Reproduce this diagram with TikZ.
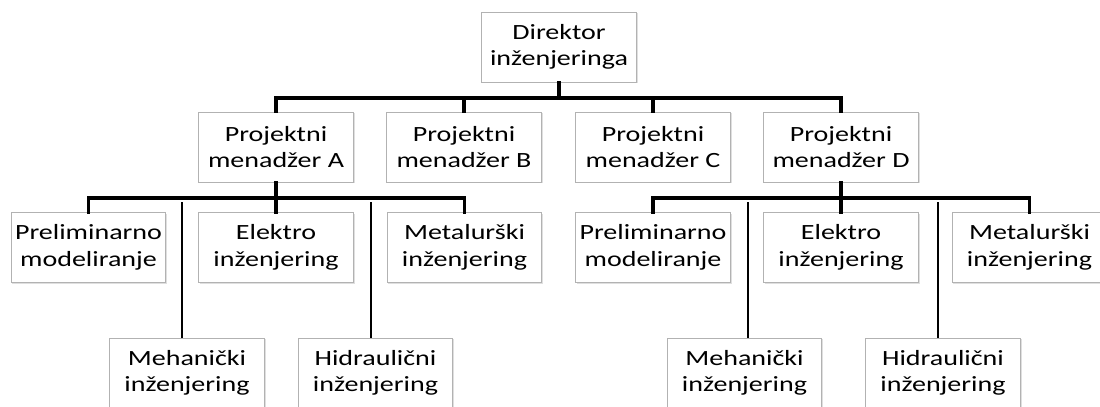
\documentclass[tikz,border=0pt]{standalone}
\usepackage{fontspec}
\setmainfont[FakeStretch=1.29]{Carlito}
\usetikzlibrary{shadows}
\begin{document}
\begin{tikzpicture}[x=0.75pt,y=-0.75pt,
        box/.style={draw=black!30,fill=white,line width=0.75pt,minimum width=116pt,minimum height=52.5pt,
                align=center,inner sep=1pt,font=\fontsize{16.3}{19.9}\selectfont,
                drop shadow={shadow xshift=0.9pt,shadow yshift=-0.9pt,opacity=0.25}},
        bar/.style={line width=2.3pt,line cap=rect},
        leg/.style={line width=1.5pt}]
                \useasboundingbox (0,0) rectangle (1100,407);
                \node[box] (dir) at (559,47) {Direktor\\inženjeringa};
                \node[box] (pmA) at (276,147) {Projektni\\menadžer A};
                \node[box] (pmB) at (464,147) {Projektni\\menadžer B};
                \node[box] (pmC) at (653,147) {Projektni\\menadžer C};
                \node[box] (pmD) at (841,147) {Projektni\\menadžer D};

                \node[box] (prelA) at (88.5,247.5) {Preliminarno\\modeliranje};
                \node[box] (elekA) at (276,247.5) {Elektro\\inženjering};
                \node[box] (metA) at (464.5,247.5) {Metalurški\\inženjering};
                \node[box] (mehA) at (187,373) {Mehanički\\inženjering};
                \node[box] (hidA) at (375.5,373) {Hidraulični\\inženjering};

                \node[box] (prelD) at (653,247.5) {Preliminarno\\modeliranje};
                \node[box] (elekD) at (841,247.5) {Elektro\\inženjering};
                \node[box] (metD) at (1029.5,247.5) {Metalurški\\inženjering};
                \node[box] (mehD) at (744.5,373) {Mehanički\\inženjering};
                \node[box] (hidD) at (943,373) {Hidraulični\\inženjering};

                \coordinate (topbar) at (559,98);
                \coordinate (barA) at (276,198);
                \coordinate (barD) at (841,198);
                \coordinate (mehAtop) at (182,202);
                \coordinate (hidAtop) at (370.5,202);
                \coordinate (mehDtop) at (748,202);
                \coordinate (hidDtop) at (938,202);

                \draw[bar] (dir.south) -- (topbar);
                \draw[bar] (pmA.north) |- (topbar) -| (pmD.north);
                \draw[bar] (pmB.north) -- (pmB.north |- topbar);
                \draw[bar] (pmC.north) -- (pmC.north |- topbar);

                \draw[bar] (pmA.south) -- (barA);
                \draw[bar] (prelA.north) |- (barA) -| (metA.north);
                \draw[bar] (elekA.north) -- (barA);
                \draw[leg] (mehAtop) -- (mehAtop |- mehA.north);
                \draw[leg] (hidAtop) -- (hidAtop |- hidA.north);

                \draw[bar] (pmD.south) -- (barD);
                \draw[bar] (prelD.north) |- (barD) -| (metD.north);
                \draw[bar] (elekD.north) -- (barD);
                \draw[leg] (mehDtop) -- (mehDtop |- mehD.north);
                \draw[leg] (hidDtop) -- (hidDtop |- hidD.north);
                \end{tikzpicture}
\end{document}
